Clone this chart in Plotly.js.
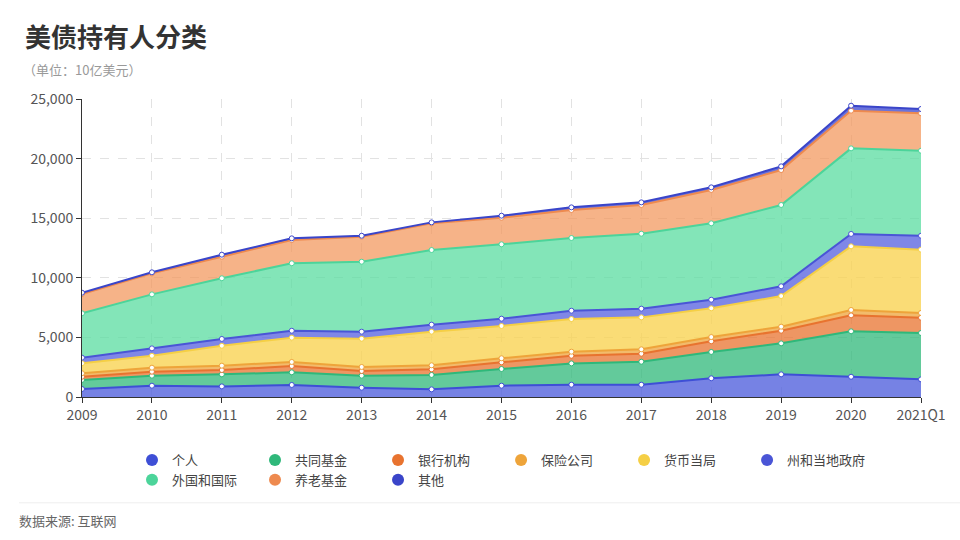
<!DOCTYPE html>
<html>
<head>
<meta charset="utf-8">
<script src="https://cdn.plot.ly/plotly-3.0.1.min.js"></script>
<style>body{margin:0;background:#fff}#chart{width:960px;height:540px}</style>
</head>
<body>
<div id="chart"></div>
<script>
var years = ['2009','2010','2011','2012','2013','2014','2015','2016','2017','2018','2019','2020','2021Q1'];
var names = ['个人','共同基金','银行机构','保险公司','货币当局','州和当地政府','外国和国际','养老基金','其他'];
var individual = [670,950,890,1010,780,640,950,1030,1030,1570,1900,1700,1480];
var mutualFund = [760,840,1010,1060,1010,1210,1400,1790,1930,2210,2600,3810,3890];
var banks = [270,330,360,530,390,470,560,640,670,890,1060,1340,1280];
var insurance = [290,340,370,340,340,340,340,340,370,360,340,450,400];
var fed = [840,1000,1670,2040,2370,2820,2710,2740,2680,2410,2570,5340,5310];
var stateLocal = [470,620,570,580,590,590,610,700,730,720,820,1040,1170];
var foreign = [3720,4530,5090,5660,5870,6260,6240,6100,6290,6410,6820,7180,7130];
var pension = [1620,1760,1810,1950,2100,2240,2230,2350,2410,2800,2930,3160,3140];
var other = [110,90,170,140,80,80,170,220,220,220,310,420,360];

var series = [individual, mutualFund, banks, insurance, fed, stateLocal, foreign, pension, other];
var lineColors = ['#3e4fd6','#2fb87a','#e8732f','#eea43a','#f5cf45','#4a55d6','#4cd49a','#ee8a4f','#3a45c9'];
var fillColors = ['rgba(80,95,220,0.78)','rgba(47,184,122,0.75)','rgba(232,115,47,0.75)','rgba(238,164,58,0.75)',
  'rgba(248,210,80,0.78)','rgba(95,105,225,0.8)','rgba(90,220,160,0.75)','rgba(242,150,90,0.72)','rgba(70,80,210,0.8)'];

var data = [];
series.forEach(function(s, i) {
  data.push({
    x: years, y: s, name: names[i], type: 'scatter', mode: 'lines+markers',
    stackgroup: 'one', fillcolor: fillColors[i], showlegend: false,
    line: {color: lineColors[i], width: 2},
    marker: {size: 5, color: '#fff', line: {color: lineColors[i], width: 1}},
    hovertemplate: '%{y}'
  });
});
names.forEach(function(n, i) {
  data.push({
    x: [years[0]], y: [null], name: n, type: 'scatter', mode: 'markers',
    marker: {size: 13, color: lineColors[i]}, showlegend: true
  });
});

var layout = {
  width: 960, height: 540,
  margin: {l: 82, r: 39, t: 99, b: 143},
  paper_bgcolor: '#fff', plot_bgcolor: '#fff',
  font: {family: 'Noto Sans CJK SC, sans-serif', color: '#555'},
  title: {text: '<b>美债持有人分类</b>', x: 0.026, xanchor: 'left', y: 0.93, yanchor: 'middle',
    font: {size: 26, color: '#333'}},
  xaxis: {
    type: 'category', range: [0, 12], showgrid: true, griddash: 'dash', gridcolor: '#e2e2e2',
    showline: true, linecolor: '#333', ticks: 'outside', tickcolor: '#333', ticklen: 5,
    tickfont: {size: 14, color: '#555'}, zeroline: false
  },
  yaxis: {
    range: [0, 25000], dtick: 5000, tickformat: ',', showgrid: true, griddash: 'dash', gridcolor: '#e2e2e2',
    showline: true, linecolor: '#333', ticks: 'outside', tickcolor: '#333', ticklen: 5,
    tickfont: {size: 14, color: '#555'}, zeroline: false
  },
  legend: {orientation: 'h', traceorder: 'normal', x: 0.5, xanchor: 'center', xref: 'paper', y: -0.245, yanchor: 'middle',
    font: {size: 13, color: '#444'}, itemsizing: 'constant', itemwidth: 30},
  annotations: [
    {text: '（单位：10亿美元）', xref: 'paper', yref: 'paper', x: -0.07, xanchor: 'left',
      y: 1.1, yanchor: 'middle', showarrow: false, font: {size: 13, color: '#999'}, xshift: -2},
    {text: '数据来源: 互联网', xref: 'paper', yref: 'paper', x: -0.087, xanchor: 'left',
      y: -0.415, yanchor: 'middle', showarrow: false, font: {size: 13, color: '#666'}, xshift: 8}
  ],
  shapes: [
    {type: 'line', xref: 'paper', yref: 'paper', x0: -0.075, x1: 1.05, y0: -0.355, y1: -0.355,
      line: {color: '#eee', width: 1}}
  ]
};

Plotly.newPlot('chart', data, layout, {displayModeBar: false});
</script>
</body>
</html>
